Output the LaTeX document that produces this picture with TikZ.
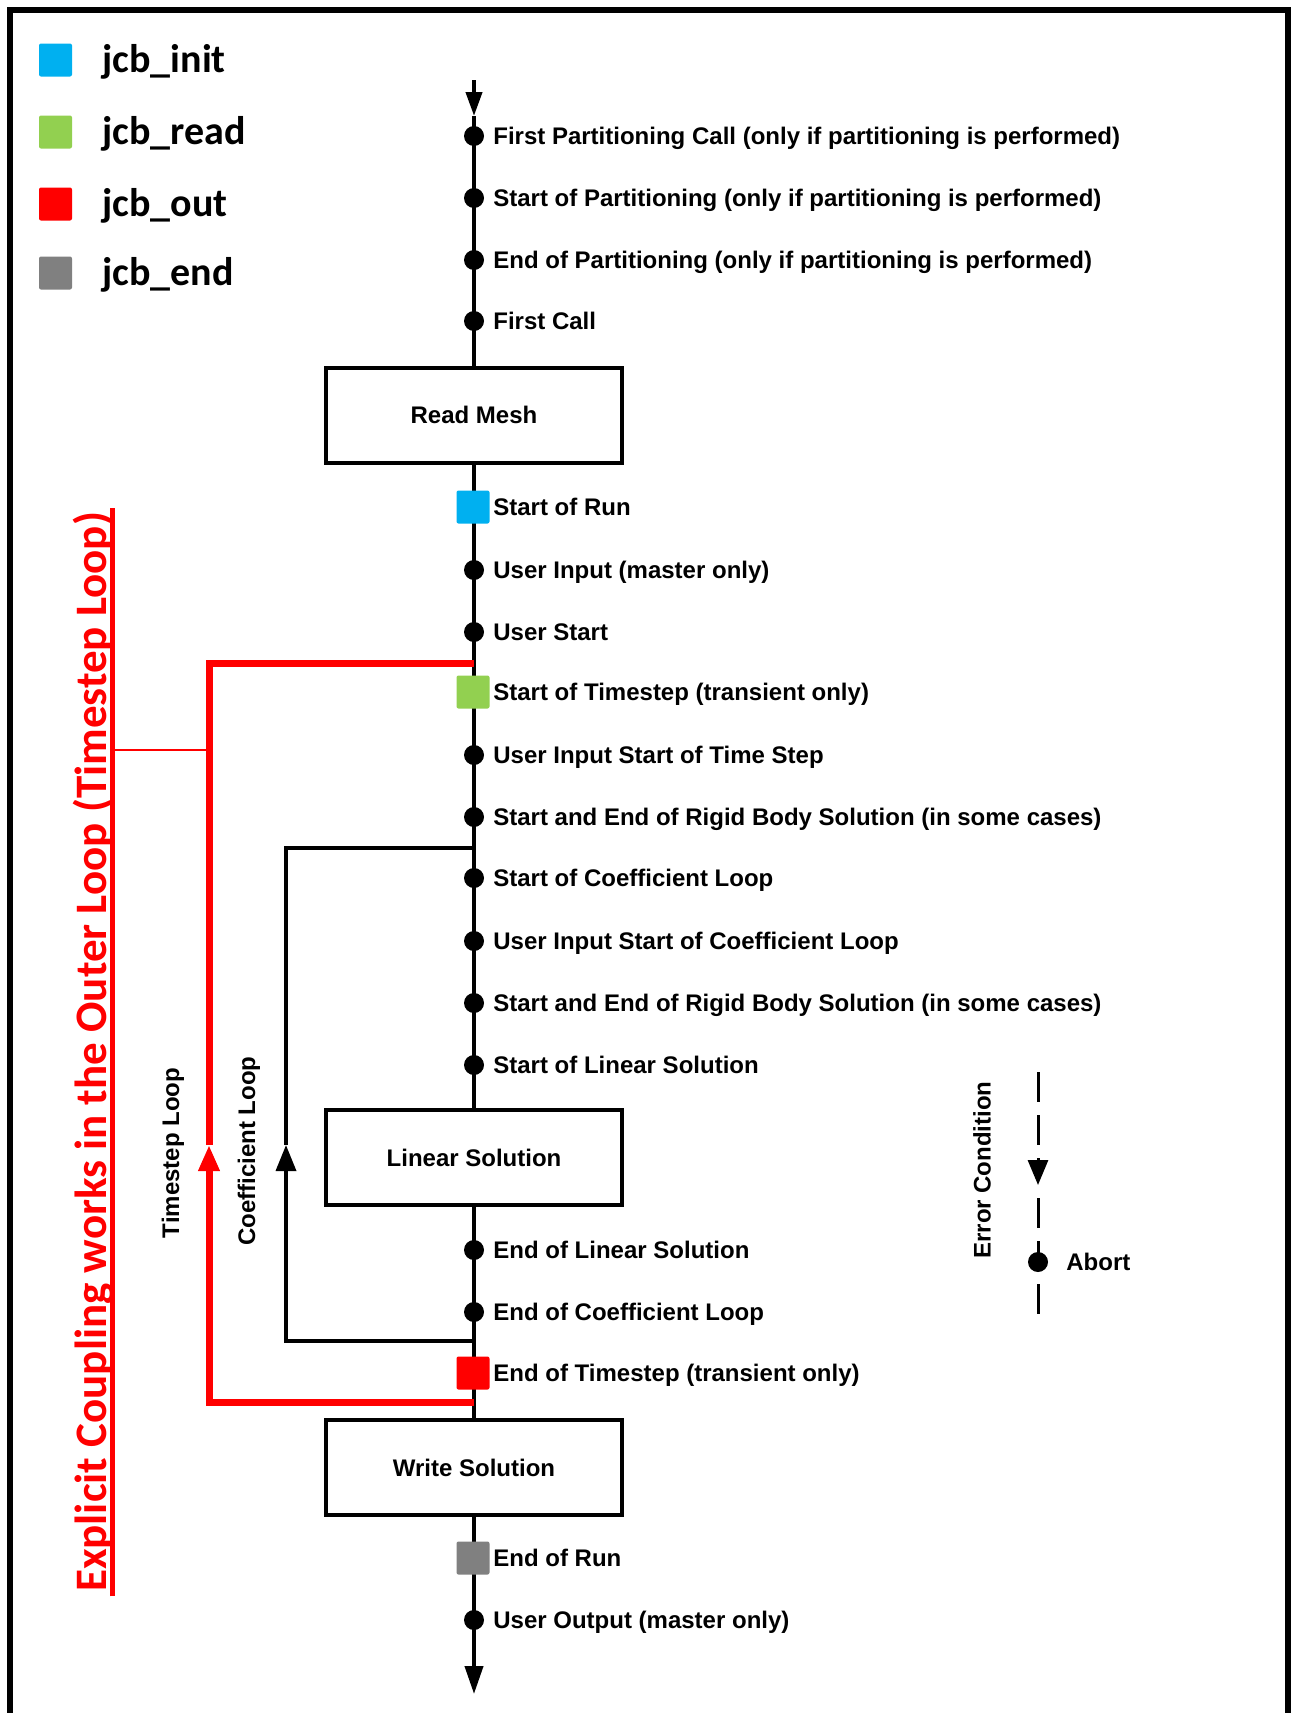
\documentclass[tikz,border=0pt]{standalone}
\usepackage{fontspec}
\setmainfont{Liberation Sans}
\newfontfamily\calfont{Carlito}
\usetikzlibrary{arrows.meta}

\definecolor{jcbinit}{RGB}{0,176,240}
\definecolor{jcbread}{RGB}{146,208,80}
\definecolor{jcbout}{RGB}{255,0,0}
\definecolor{jcbend}{RGB}{128,128,128}

\begin{document}
\begin{tikzpicture}[
  x=0.5pt, y=-0.5pt,
  procbox/.style={draw, line width=2pt, fill=white, minimum width=148pt, minimum height=47.5pt, font=\bfseries\fontsize{12}{14}\selectfont},
  evdot/.style={circle, fill=black, inner sep=0pt, minimum size=10pt},
  jcbmark/.style={rectangle, rounded corners=1pt, inner sep=0pt, minimum size=16.5pt},
  evlabel/.style={anchor=west, inner sep=0pt, text height=8.6pt, text depth=0pt, font=\bfseries\fontsize{12}{14}\selectfont},
  looplabel/.style={rotate=90, inner sep=0pt, font=\bfseries\fontsize{12}{14}\selectfont},
  legendlabel/.style={anchor=base west, inner sep=0pt, font=\calfont\bfseries\fontsize{20}{24}\selectfont},
  spine/.style={line width=2pt},
  coefloop/.style={line width=1.75pt},
  tsloop/.style={line width=3.5pt, jcbout},
  errline/.style={line width=1.5pt, dash pattern=on 15pt off 6.5pt},
  notetext/.style={rotate=90, anchor=south, inner xsep=2pt, inner ysep=0pt, text depth=2.75pt, jcbout, font=\calfont\bfseries\fontsize{22.5}{26}\selectfont}
]
\useasboundingbox (0,0) rectangle (1294,1713);

% Outer frame (open at the bottom)
\draw[line width=3pt] (10,1713) -- (10,10) -- (1288,10) -- (1288,1713);

% Legend
\node[jcbmark, fill=jcbinit] (leginit) at (55.5,60) {};
\node[legendlabel] (leginit-t) at (102,72) {jcb\_init};
\node[jcbmark, fill=jcbread] (legread) at (55.5,132) {};
\node[legendlabel] (legread-t) at (102,144) {jcb\_read};
\node[jcbmark, fill=jcbout] (legout) at (55.5,204) {};
\node[legendlabel] (legout-t) at (102,216) {jcb\_out};
\node[jcbmark, fill=jcbend] (legend) at (55.5,273) {};
\node[legendlabel] (legend-t) at (102,285) {jcb\_end};

% Process boxes
\node[procbox] (readmesh) at (474,415) {Read Mesh};
\node[procbox] (linsol) at (474,1157.5) {Linear Solution};
\node[procbox] (writesol) at (474,1467.5) {Write Solution};

% Main flow line
\coordinate (flowtop) at (474,80);
\coordinate (flowarrow) at (474,116);
\coordinate (flowend) at (474,1694);
\draw[spine, -{Triangle[length=12pt, width=8pt]}] (flowtop) -- (flowarrow);
\draw[spine] (flowarrow) -- (readmesh);
\draw[spine] (readmesh) -- (linsol);
\draw[spine] (linsol) -- (writesol);
\draw[spine, -{Triangle[length=14pt, width=9pt]}] (writesol) -- (flowend);

% Coefficient loop
\coordinate (coefout) at (474,1341);
\coordinate (coefback) at (286,1145);
\coordinate (coefin) at (474,848);
\draw[coefloop, -{Triangle[length=13pt, width=10pt]}] (coefout) -| (coefback);
\draw[coefloop] (coefback) |- (coefin);
\node[looplabel] (coeftext) at (249,1151) {Coefficient Loop};

% Timestep loop
\coordinate (tsout) at (474,1402);
\coordinate (tsback) at (209,1145);
\coordinate (tsin) at (474,663);
\coordinate (tsmid) at (209,750);
\draw[tsloop, -{Triangle[length=13pt, width=10pt]}] (tsout) -| (tsback);
\draw[tsloop] (tsback) |- (tsin);
\node[looplabel] (tstext) at (173,1153) {Timestep Loop};

% Red note on explicit coupling
\node[notetext] (coupnote) at (112.5,1052) {Explicit Coupling works in the Outer Loop (Timestep Loop)};
\draw[jcbout, line width=2.5pt] (coupnote.south west) -- (coupnote.south east);
\coordinate (notetap) at (112.5,750);
\draw[jcbout, line width=1pt] (notetap) -- (tsmid);

% Events on the flow line
\node[evdot] (firstpart) at (474,136) {};
\node[evlabel] (firstpart-t) at (493,136) {First Partitioning Call (only if partitioning is performed)};
\node[evdot] (startpart) at (474,198) {};
\node[evlabel] (startpart-t) at (493,198) {Start of Partitioning (only if partitioning is performed)};
\node[evdot] (endpart) at (474,260) {};
\node[evlabel] (endpart-t) at (493,260) {End of Partitioning (only if partitioning is performed)};
\node[evdot] (firstcall) at (474,321) {};
\node[evlabel] (firstcall-t) at (493,321) {First Call};

\node[jcbmark, fill=jcbinit] (startrun) at (473,507) {};
\node[evlabel] (startrun-t) at (493,507) {Start of Run};
\node[evdot] (userinput) at (474,570) {};
\node[evlabel] (userinput-t) at (493,570) {User Input (master only)};
\node[evdot] (userstart) at (474,632) {};
\node[evlabel] (userstart-t) at (493,632) {User Start};
\node[jcbmark, fill=jcbread] (startts) at (473,692) {};
\node[evlabel] (startts-t) at (493,692) {Start of Timestep (transient only)};
\node[evdot] (uistartts) at (474,755) {};
\node[evlabel] (uistartts-t) at (493,755) {User Input Start of Time Step};
\node[evdot] (rigidone) at (474,817) {};
\node[evlabel] (rigidone-t) at (493,817) {Start and End of Rigid Body Solution (in some cases)};
\node[evdot] (startcoef) at (474,878) {};
\node[evlabel] (startcoef-t) at (493,878) {Start of Coefficient Loop};
\node[evdot] (uistartcoef) at (474,941) {};
\node[evlabel] (uistartcoef-t) at (493,941) {User Input Start of Coefficient Loop};
\node[evdot] (rigidtwo) at (474,1003) {};
\node[evlabel] (rigidtwo-t) at (493,1003) {Start and End of Rigid Body Solution (in some cases)};
\node[evdot] (startlin) at (474,1065) {};
\node[evlabel] (startlin-t) at (493,1065) {Start of Linear Solution};

\node[evdot] (endlin) at (474,1250) {};
\node[evlabel] (endlin-t) at (493,1250) {End of Linear Solution};
\node[evdot] (endcoef) at (474,1312) {};
\node[evlabel] (endcoef-t) at (493,1312) {End of Coefficient Loop};
\node[jcbmark, fill=jcbout] (endts) at (473,1373) {};
\node[evlabel] (endts-t) at (493,1373) {End of Timestep (transient only)};

\node[jcbmark, fill=jcbend] (endrun) at (473,1558) {};
\node[evlabel] (endrun-t) at (493,1558) {End of Run};
\node[evdot] (useroutput) at (474,1620) {};
\node[evlabel] (useroutput-t) at (493,1620) {User Output (master only)};

% Error condition key
\node[looplabel] (errtext) at (982,1170) {Error Condition};
\coordinate (errtop) at (1038,1072);
\coordinate (errarrow) at (1038,1185);
\coordinate (errbottom) at (1038,1318);
\draw[errline, -{Triangle[length=12.5pt, width=10pt]}] (errtop) -- (errarrow);
\draw[errline, dash phase=15pt] (errarrow) -- (errbottom);
\node[evdot] (abort) at (1038,1262) {};
\node[evlabel] (abort-t) at (1066,1262) {Abort};
\end{tikzpicture}
\end{document}
